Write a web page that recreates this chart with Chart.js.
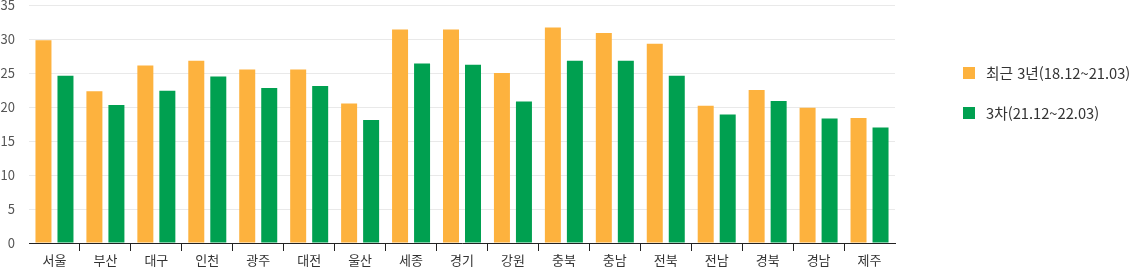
<!DOCTYPE html>
<html lang="ko">
<head>
<meta charset="utf-8">
<script src="https://cdn.jsdelivr.net/npm/chart.js@4/dist/chart.umd.min.js"></script>
<style>
  html, body { margin: 0; padding: 0; background: #fff; }
  #wrap { position: relative; width: 1130px; height: 267px; }
  #legend { position: absolute; left: 963px; top: 0; font-family: 'Noto Sans CJK KR', sans-serif; font-size: 14.7px; color: #333; }
  .item { position: absolute; left: 0; white-space: nowrap; line-height: 16px; }
  .box { position: absolute; left: 0; top: 2px; width: 12px; height: 12px; }
  .txt { position: absolute; left: 23px; top: 0; }
</style>
</head>
<body>
<div id="wrap">
  <canvas id="chart" width="1130" height="267"></canvas>
  <div id="legend"></div>
</div>
<script>
// --- DATA ---
const regions = ['서울','부산','대구','인천','광주','대전','울산','세종','경기','강원','충북','충남','전북','전남','경북','경남','제주'];
const recent3y = [29.8, 22.3, 26.1, 26.8, 25.5, 25.5, 20.5, 31.4, 31.4, 25.0, 31.7, 30.9, 29.3, 20.2, 22.5, 19.9, 18.4];
const round3 = [24.6, 20.3, 22.4, 24.5, 22.8, 23.1, 18.1, 26.4, 26.2, 20.8, 26.8, 26.8, 24.6, 18.9, 20.9, 18.3, 17.0];
const seriesNames = ['최근 3년(18.12~21.03)', '3차(21.12~22.03)'];
const seriesColors = ['#fdb23e', '#00a050'];
const yTicks = [0, 5, 10, 15, 20, 25, 30, 35];

const font = "'Noto Sans CJK KR', sans-serif";

// --- CHART ---
const chart = new Chart(document.getElementById('chart'), {
  type: 'bar',
  data: {
    labels: regions,
    datasets: [
      { label: seriesNames[0], data: recent3y, backgroundColor: seriesColors[0] },
      { label: seriesNames[1], data: round3, backgroundColor: seriesColors[1] }
    ]
  },
  options: {
    responsive: false,
    animation: false,
    categoryPercentage: 0.864,
    barPercentage: 0.727,
    layout: { padding: { top: 0, right: 235, bottom: 0, left: 0 } },
    plugins: { legend: { display: false }, tooltip: { enabled: false } },
    scales: {
      x: {
        afterFit: s => { s.height = 24; },
        border: { color: '#222', width: 1 },
        grid: {
          drawOnChartArea: false,
          tickLength: 8,
          offset: true,
          // only the inner category boundaries get a tick mark
          color: c => (c.tick && c.index > 0) ? '#222' : 'rgba(0,0,0,0)'
        },
        ticks: { color: '#333', padding: 1, font: { family: font, size: 13 } }
      },
      y: {
        min: 0, max: 35,
        afterBuildTicks: s => { s.ticks = yTicks.map(v => ({ value: v })); },
        // pin axis width and top spacing to the reference layout
        afterFit: s => { s.width = 29; s.paddingTop = 5; s.paddingBottom = 0; },
        border: { display: false },
        grid: { color: '#e9e9e9', drawTicks: false },
        ticks: { color: '#555', padding: 14, font: { family: font, size: 13 } }
      }
    }
  }
});

// --- LEGEND (html) ---
const legendTops = [65, 105];
const legend = document.getElementById('legend');
chart.data.datasets.forEach((ds, i) => {
  legend.innerHTML += `<div class="item" style="top:${legendTops[i]}px">
    <span class="box" style="background:${ds.backgroundColor}"></span>
    <span class="txt">${ds.label}</span></div>`;
});
</script>
</body>
</html>
